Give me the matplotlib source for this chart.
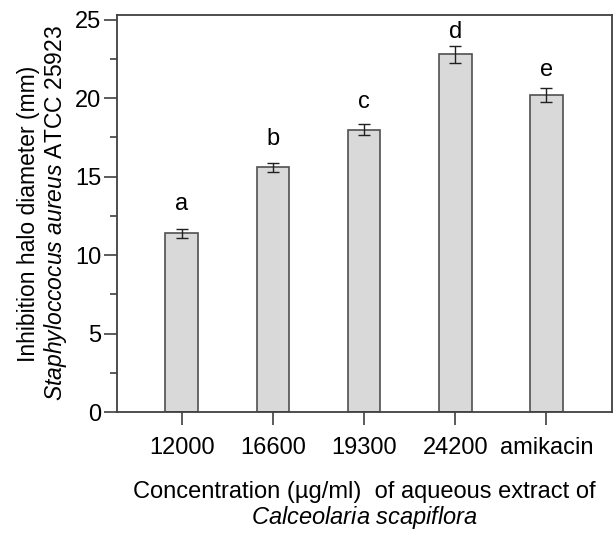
'''Bar chart of inhibition halo diameters for S. aureus ATCC 25923
against aqueous extract of Calceolaria scapiflora'''

import matplotlib
matplotlib.use("Agg")
import matplotlib.pyplot as plt
from matplotlib.ticker import MultipleLocator

# data
concentrations = ["12000", "16600", "19300", "24200", "amikacin"]
halo_mm = [11.4, 15.6, 18.0, 22.8, 20.2]
halo_err = [0.28, 0.29, 0.35, 0.56, 0.45]
letters = ["a", "b", "c", "d", "e"]
letter_y = [12.9, 17.0, 19.4, 23.85, 21.4]

plt.rcParams['font.family'] = ['Liberation Sans', 'DejaVu Sans']
plt.rcParams['mathtext.fontset'] = 'custom'
plt.rcParams['mathtext.rm'] = 'Liberation Sans'
plt.rcParams['mathtext.it'] = 'Liberation Sans:italic'

spine_col = "#404040"

fig = plt.figure(figsize=(6.16, 5.40), dpi=100)
ax = fig.add_axes([0.19, 0.237, 0.8035, 0.735])

x = range(len(concentrations))
ax.bar(x, halo_mm, width=0.36, color="#d9d9d9", edgecolor="#505050",
       linewidth=1.2, zorder=2)
ax.errorbar(x, halo_mm, yerr=halo_err, fmt='none', ecolor="#202020",
            elinewidth=1.0, capsize=4, capthick=1.0, zorder=3)

for xi, lab, ly in zip(x, letters, letter_y):
    ax.text(xi, ly, lab, ha='center', va='baseline', fontsize=17)

ax.set_xlim(-0.71, 4.72)
ax.set_ylim(0, 25.3)
ax.set_xticks(list(x))
ax.set_xticklabels(concentrations)
ax.yaxis.set_major_locator(MultipleLocator(5))
ax.yaxis.set_minor_locator(MultipleLocator(2.5))

for s in ax.spines.values():
    s.set_color(spine_col)
    s.set_linewidth(1.3)

ax.tick_params(axis='y', which='major', length=9.5, width=1.2,
               color=spine_col, labelsize=17, pad=2)
ax.tick_params(axis='y', which='minor', length=5, width=1.2,
               color=spine_col)
ax.tick_params(axis='x', length=9, width=1.2, color=spine_col,
               labelsize=17, pad=9)

ax.set_ylabel("Inhibition halo diameter (mm)\n"
              r"$\it{Staphyloccocus\ aureus}$ ATCC 25923",
              fontsize=16.5, labelpad=4, linespacing=1.1)
ax.set_xlabel("Concentration (µg/ml)  of aqueous extract of\n"
              r"$\it{Calceolaria\ scapiflora}$",
              fontsize=17, labelpad=16, linespacing=1.05)

fig.savefig("out.png", dpi=100)
